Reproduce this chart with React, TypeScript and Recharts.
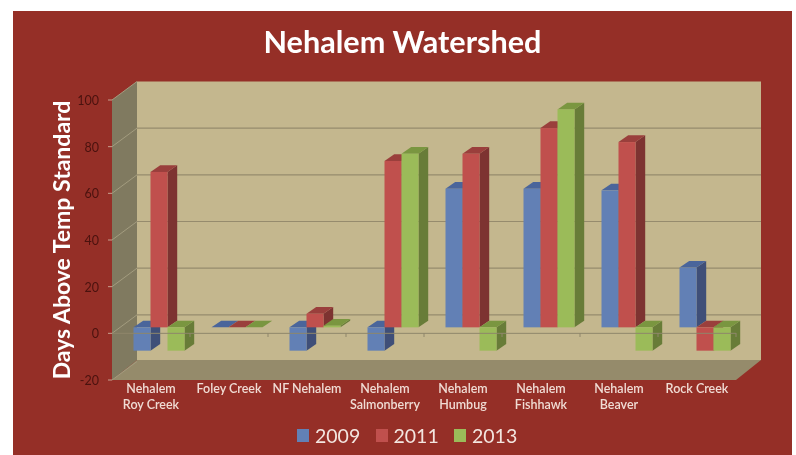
import { Bar, BarChart, Legend, ReferenceLine, XAxis, YAxis } from "recharts";

const categories = [
  ["Nehalem", "Roy Creek"],
  ["Foley Creek"],
  ["NF Nehalem"],
  ["Nehalem", "Salmonberry"],
  ["Nehalem", "Humbug"],
  ["Nehalem", "Fishhawk"],
  ["Nehalem", "Beaver"],
  ["Rock Creek"],
];
const values2009 = [-10, 0, -10, -10, 59.4, 59.4, 58.7, 25.6];
const values2011 = [66.6, 0, 5.8, 71.3, 74.4, 85.4, 79.4, -10];
const values2013 = [-10, 0, 0.7, 74.4, -10, 93.4, -10, -10];
const yTicks = [-20, 0, 20, 40, 60, 80, 100];

const data = categories.map((lines, i) => ({
  name: lines.join("|"),
  y2009: values2009[i],
  y2011: values2011[i],
  y2013: values2013[i],
}));

const FONT = "Lato, 'Open Sans', sans-serif";
// plot box of the front plane, and the fake 3d depth
const LEFT = 112;
const RIGHT = 736;
const TOP = 100;
const BOTTOM = 380;
const AXIS_W = 60;
const DEPTH_X = 25;
const DEPTH_Y = -18.5;
const BAR_SHIFT_X = 8.5;
const BAR_SHIFT_Y = -6;
const BAR_DX = 9.7;
const BAR_DY = -6.7;
const BAND = (RIGHT - LEFT) / categories.length;

function Box3D(props: any) {
  const { x, y, width, height, fill, sideFill, topFill } = props;
  const x0 = x + BAR_SHIFT_X;
  const y0 = Math.min(y, y + height) + BAR_SHIFT_Y;
  const h = Math.abs(height);
  const x1 = x0 + width;
  return (
    <g>
      <polygon
        points={`${x1},${y0} ${x1 + BAR_DX},${y0 + BAR_DY} ${x1 + BAR_DX},${y0 + h + BAR_DY} ${x1},${y0 + h}`}
        fill={sideFill}
      />
      <polygon
        points={`${x0},${y0} ${x0 + BAR_DX},${y0 + BAR_DY} ${x1 + BAR_DX},${y0 + BAR_DY} ${x1},${y0}`}
        fill={topFill}
      />
      <rect x={x0} y={y0} width={width} height={h} fill={fill} />
    </g>
  );
}

// each value tick also draws its line across the side and back walls
function ValueTick({ x, y, payload }: any) {
  return (
    <g>
      <line x1={LEFT} y1={y} x2={LEFT + DEPTH_X} y2={y + DEPTH_Y} stroke="#a39c7f" strokeWidth={1} />
      {payload.value > -20 && payload.value < 100 && (
        <line x1={LEFT + DEPTH_X} y1={y + DEPTH_Y} x2={RIGHT + DEPTH_X} y2={y + DEPTH_Y} stroke="#968b6d" strokeWidth={1.2} />
      )}
      <line x1={LEFT - 4} y1={y} x2={LEFT} y2={y} stroke="#c9a090" strokeWidth={1} />
      <text x={x - 5} y={y + 5} textAnchor="end" fontSize={12.5} fontFamily={FONT} fill="#4a120e">
        {payload.value}
      </text>
    </g>
  );
}

function CategoryTick({ x, y, payload }: any) {
  const lines = String(payload.value).split("|");
  return (
    <g>
      <line x1={x + BAND / 2} y1={y - 55} x2={x + BAND / 2} y2={y - 51} stroke="#8f866a" strokeWidth={1} />
      {lines.map((line, i) => (
        <text
          key={line}
          x={x}
          y={y + 5 + i * 16}
          textAnchor="middle"
          fontSize={12.5}
          fontWeight={600}
          fontFamily={FONT}
          fill="#f0dcd4"
        >
          {line}
        </text>
      ))}
    </g>
  );
}

function LegendRow({ payload }: any) {
  return (
    <div style={{ display: "flex", alignItems: "center", gap: 17.5, fontFamily: FONT, fontSize: 19.5, color: "#f3e6e0" }}>
      {(payload || []).map((item: any) => (
        <div key={item.value} style={{ display: "flex", alignItems: "center", gap: 6 }}>
          <span style={{ width: 12, height: 13, background: item.color, display: "block" }} />
          <span style={{ width: 43 }}>{item.value}</span>
        </div>
      ))}
    </div>
  );
}

export default function App() {
  return (
    <div
      style={{
        position: "absolute",
        left: 0,
        top: 0,
        width: 796,
        height: 455,
        background: "#fff",
        overflow: "hidden",
        filter: "blur(0.5px)",
      }}
    >
      <div style={{ position: "absolute", left: 13, top: 11, width: 779, height: 444, background: "#952f27" }} />
      <svg width={796} height={455} style={{ position: "absolute", left: 0, top: 0 }}>
        <polygon
          points={`${LEFT + DEPTH_X},${TOP + DEPTH_Y} ${RIGHT + DEPTH_X},${TOP + DEPTH_Y} ${RIGHT + DEPTH_X},${BOTTOM - 20} ${LEFT + DEPTH_X},${BOTTOM - 20}`}
          fill="#c4b78e"
        />
        <polygon
          points={`${LEFT},${TOP} ${LEFT + DEPTH_X},${TOP + DEPTH_Y} ${LEFT + DEPTH_X},${BOTTOM - 20} ${LEFT},${BOTTOM}`}
          fill="#807a60"
        />
        <polygon
          points={`${LEFT},${BOTTOM} ${LEFT + DEPTH_X},${BOTTOM - 20} ${RIGHT + DEPTH_X},${BOTTOM - 20} ${RIGHT},${BOTTOM}`}
          fill="#958b6b"
        />
      </svg>
      <div
        style={{
          position: "absolute",
          left: 0,
          width: 805,
          top: 23,
          textAlign: "center",
          fontFamily: FONT,
          fontWeight: 700,
          fontSize: 30.6,
          color: "#fff",
        }}
      >
        Nehalem Watershed
      </div>
      {/* back layer: value axis and wall lines, so the bars stay in front of them */}
      <div style={{ position: "absolute", left: 0, top: 0 }}>
        <BarChart
          width={796}
          height={455}
          data={data}
          margin={{ top: TOP, right: 796 - RIGHT, bottom: 455 - BOTTOM, left: LEFT - AXIS_W }}
        >
          <XAxis dataKey="name" hide />
          <YAxis
            width={AXIS_W}
            domain={[-20, 100]}
            ticks={yTicks}
            interval={0}
            axisLine={false}
            tickLine={false}
            tick={<ValueTick />}
            label={{
              value: "Days Above Temp Standard",
              angle: -90,
              position: "insideLeft",
              dx: 5,
              style: { fontFamily: FONT, fontWeight: 700, fontSize: 23, fill: "#fff", textAnchor: "middle" },
            }}
          />
          <Bar dataKey="y2009" isAnimationActive={false} shape={() => null} />
        </BarChart>
      </div>
      <div style={{ position: "absolute", left: 0, top: 0 }}>
        <BarChart
          width={796}
          height={455}
          data={data}
          margin={{ top: TOP, right: 796 - RIGHT, bottom: 0, left: LEFT }}
          barCategoryGap={13}
          barGap={0}
        >
          <XAxis
            dataKey="name"
            height={455 - BOTTOM}
            axisLine={false}
            tickLine={false}
            interval={0}
            tick={<CategoryTick />}
          />
          <YAxis hide domain={[-20, 100]} ticks={yTicks} />
          <Legend
            layout="horizontal"
            verticalAlign="middle"
            wrapperStyle={{ position: "absolute", left: 297, top: 424, width: 240 }}
            content={<LegendRow />}
          />
          <Bar
            dataKey="y2009"
            name="2009"
            fill="#6280b5"
            isAnimationActive={false}
            shape={(p: any) => <Box3D {...p} sideFill="#3f4f78" topFill="#4a659b" />}
          />
          <Bar
            dataKey="y2011"
            name="2011"
            fill="#c0504d"
            isAnimationActive={false}
            shape={(p: any) => <Box3D {...p} sideFill="#7d3331" topFill="#9a3f3c" />}
          />
          <Bar
            dataKey="y2013"
            name="2013"
            fill="#9bbb59"
            isAnimationActive={false}
            shape={(p: any) => <Box3D {...p} sideFill="#687c38" topFill="#7a9640" />}
          />
          <ReferenceLine y={0} stroke="#8f866a" strokeWidth={1} />
        </BarChart>
      </div>
    </div>
  );
}
